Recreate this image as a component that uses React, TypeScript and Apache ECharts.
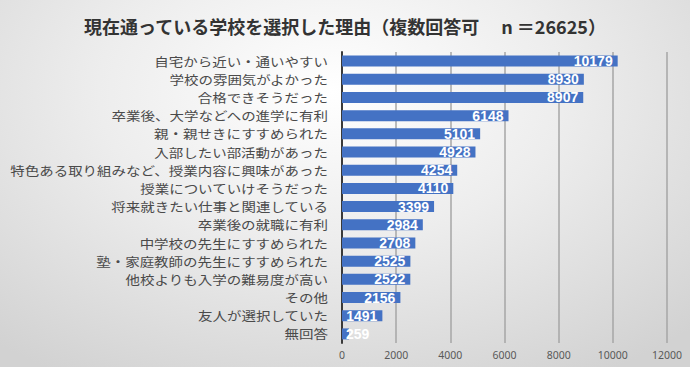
import React, { useEffect, useRef } from "react";
import * as echarts from "echarts";

const titleText = "現在通っている学校を選択した理由（複数回答可　 n ＝26625）";

const categories = [
  "自宅から近い・通いやすい",
  "学校の雰囲気がよかった",
  "合格できそうだった",
  "卒業後、大学などへの進学に有利",
  "親・親せきにすすめられた",
  "入部したい部活動があった",
  "特色ある取り組みなど、授業内容に興味があった",
  "授業についていけそうだった",
  "将来就きたい仕事と関連している",
  "卒業後の就職に有利",
  "中学校の先生にすすめられた",
  "塾・家庭教師の先生にすすめられた",
  "他校よりも入学の難易度が高い",
  "その他",
  "友人が選択していた",
  "無回答",
];

const values = [10179, 8930, 8907, 6148, 5101, 4928, 4254, 4110, 3399, 2984, 2708, 2525, 2522, 2156, 1491, 259];

const xMin = 0;
const xMax = 12000;
const xInterval = 2000;

export default function App() {
  const ref = useRef<HTMLDivElement>(null);

  useEffect(() => {
    if (!ref.current) return;
    const chart = echarts.init(ref.current, undefined, { renderer: "svg" });
    chart.setOption({
      animation: false,
      title: {
        text: titleText,
        left: "center",
        top: 12,
        textStyle: {
          fontFamily: "'Noto Sans CJK JP', sans-serif",
          fontSize: 18,
          fontWeight: "bold",
          color: "#333333",
        },
      },
      grid: { left: 342, right: 23, top: 52, bottom: 24, containLabel: false },
      xAxis: {
        type: "value",
        min: xMin,
        max: xMax,
        interval: xInterval,
        axisLine: { show: false },
        axisTick: { show: false },
        splitLine: { show: true, lineStyle: { color: "#a6a6a6", width: 1.5 } },
        axisLabel: {
          color: "#595959",
          fontSize: 10.5,
          margin: 6,
          fontFamily: "'Noto Sans', sans-serif",
          formatter: (v: number) => String(v),
        },
      },
      yAxis: {
        type: "category",
        inverse: true,
        data: categories,
        axisLine: { show: true, lineStyle: { color: "#3a3a3a", width: 2 } },
        axisTick: { show: false },
        axisLabel: { show: false },
      },
      series: [
        {
          type: "bar",
          barWidth: 11,
          data: values.map((v) => ({
            value: v,
            label: v < 1000 ? { position: "insideLeft", distance: 4 } : undefined,
          })),
          itemStyle: { color: "#4472C4" },
          label: {
            show: true,
            position: "insideRight",
            distance: 5,
            color: "#ffffff",
            fontSize: 14,
            lineHeight: 15,
            fontWeight: "bold",
            fontFamily: "'Liberation Sans', Arial, sans-serif",
          },
        },
      ],
    });

    // Category labels: positioned through the category axis scale,
    // drawn slightly condensed vertically so neighbouring labels do not collide.
    const axisX = chart.convertToPixel({ xAxisIndex: 0 }, 0) as number;
    const graphics = categories.map((c, i) => {
      const y = chart.convertToPixel({ yAxisIndex: 0 }, i) as number;
      return {
        type: "text",
        x: axisX - 14,
        y,
        scaleX: 1.16,
        silent: true,
        style: {
          text: c,
          align: "right",
          verticalAlign: "middle",
          fontSize: 12.5,
          fill: "#4a4a4a",
          fontFamily: "'Noto Sans CJK JP', sans-serif",
        },
      };
    });
    chart.setOption({ graphic: graphics });

    return () => chart.dispose();
  }, []);

  return (
    <div
      ref={ref}
      style={{
        position: "absolute",
        left: 0,
        top: 0,
        width: 690,
        height: 367,
        background:
          "radial-gradient(ellipse 75% 90% at 48% 25%, #ffffff 0%, #ededed 45%, #d2d2d2 100%)",
      }}
    />
  );
}
